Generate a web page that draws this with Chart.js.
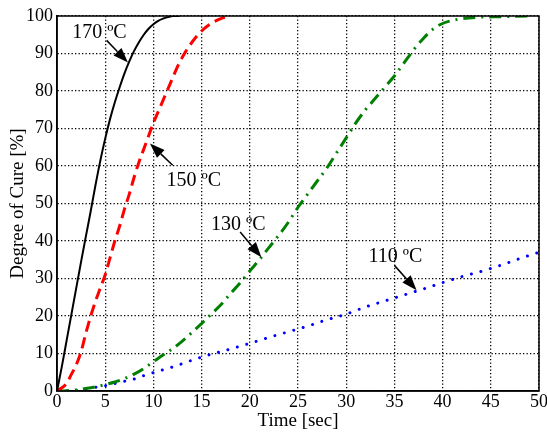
<!DOCTYPE html>
<html>
<head>
<meta charset="utf-8">
<script src="https://cdn.jsdelivr.net/npm/chart.js@4"></script>
<style>
    html, body { margin: 0; padding: 0; background: #fff; }
    #wrap { width: 547px; height: 432px; }
</style>
</head>
<body>
<div id="wrap"><canvas id="curado"></canvas></div>
<script>
// Datos (tiempo en seg, grado de curado en %)
const t170 = [0, 0.5, 1, 1.5, 2, 2.5, 3, 3.5, 4, 4.5, 5, 5.5, 6, 6.5, 7, 7.5, 8, 8.5, 9, 9.5, 10, 10.5, 11, 11.5, 12, 12.7];
const cure170 = [0, 6.5, 13.5, 20.5, 27.5, 34.5, 41.3, 48, 55, 61.5, 67.3, 72.5, 77, 81, 84.7, 87.9, 90.7, 93, 95, 96.6, 97.8, 98.7, 99.3, 99.7, 100, 100];

const t150 = [0, 1, 1.5, 2, 2.5, 3, 3.5, 4, 4.5, 5, 5.5, 6, 6.5, 7, 7.5, 8, 8.5, 9, 9.5, 10, 10.5, 11, 11.5, 12, 12.5, 13, 14, 15, 16, 17, 18];
const cure150 = [0, 2, 4.5, 7, 10.5, 15.5, 20, 24, 27.5, 31, 35.5, 40, 44, 48.5, 52.5, 57, 61, 64.5, 68, 71.5, 74.5, 77.5, 80.5, 83.5, 86.5, 89, 93, 96, 98, 99.3, 100];

const t130 = [0, 1, 2, 3, 4, 5, 6, 7, 8, 9, 10, 11, 12, 13, 14, 15, 16, 17, 18, 19, 20, 21, 22, 23, 24, 25, 26, 27, 28, 29, 30, 31, 32, 33, 34, 35, 36, 37, 38, 39, 40, 41, 42, 44, 46, 49];
const cure130 = [0, 0.1, 0.3, 0.7, 1.1, 1.7, 2.4, 3.3, 4.5, 6, 7.8, 9.6, 11.3, 13.3, 15.6, 18, 20.5, 23, 26, 28.8, 32, 35, 38.3, 41.5, 45, 49, 52.5, 56, 59.5, 63.5, 67.5, 71.5, 75, 78, 81, 84, 87.5, 91, 94, 96.5, 98, 98.8, 99.3, 99.7, 99.8, 100];

const t110 = [0, 1, 2, 3, 4, 5, 6, 7, 8, 9, 10, 12, 14, 16, 18, 20, 22, 24, 26, 28, 30, 32, 34, 36, 38, 40, 42, 44, 46, 48, 50];
const cure110 = [0, 0, 0.1, 0.6, 1, 1.4, 2, 2.6, 3.2, 4.1, 4.9, 6.4, 8.2, 9.8, 11.2, 12.7, 14.3, 15.8, 17.3, 19, 20.5, 22.4, 24, 25.6, 27.2, 28.9, 30.5, 31.9, 33.5, 35.3, 37];

const xTicks = [0, 5, 10, 15, 20, 25, 30, 35, 40, 45, 50];
const yTicks = [0, 10, 20, 30, 40, 50, 60, 70, 80, 90, 100];

// Etiquetas con flecha: [tiempo, %]
const etiquetas = ['170 ºC', '150 ºC', '130 ºC', '110 ºC'];
const posTexto = [[4.4, 95.6], [14.2, 56.2], [18.8, 44.4], [35.1, 35.9]];
const colaFlecha = [[5.15, 93.5], [12.0, 60.2], [19.0, 42.4], [35.0, 33.5]];
const puntaFlecha = [[7.36, 87.6], [9.64, 66.0], [21.2, 35.7], [37.3, 26.9]];

const serie = (ts, vs) => ts.map((t, i) => ({ x: t, y: vs[i] }));

const FUENTE = '"Liberation Serif", "Times New Roman", serif';

const marcoYFlechas = {
    id: 'marcoYFlechas',
    afterDatasetsDraw(chart) {
        const { ctx, chartArea: a, scales: { x, y } } = chart;
        ctx.save();
        // caja completa
        ctx.strokeStyle = '#000';
        ctx.lineWidth = 1.5;
        ctx.setLineDash([]);
        ctx.strokeRect(a.left, a.top, a.right - a.left, a.bottom - a.top);

        ctx.fillStyle = '#000';
        ctx.font = '20px ' + FUENTE;
        ctx.textAlign = 'center';
        ctx.textBaseline = 'middle';
        etiquetas.forEach((txt, i) => {
            ctx.fillText(txt, x.getPixelForValue(posTexto[i][0]), y.getPixelForValue(posTexto[i][1]));

            const x0 = x.getPixelForValue(colaFlecha[i][0]), y0 = y.getPixelForValue(colaFlecha[i][1]);
            const x1 = x.getPixelForValue(puntaFlecha[i][0]), y1 = y.getPixelForValue(puntaFlecha[i][1]);
            const ang = Math.atan2(y1 - y0, x1 - x0);
            const largo = 15, ancho = 5.5;
            const bx = x1 - largo * Math.cos(ang), by = y1 - largo * Math.sin(ang);
            ctx.lineWidth = 1.5;
            ctx.beginPath();
            ctx.moveTo(x0, y0);
            ctx.lineTo(bx, by);
            ctx.stroke();
            ctx.beginPath();
            ctx.moveTo(x1, y1);
            ctx.lineTo(bx + ancho * Math.sin(ang), by - ancho * Math.cos(ang));
            ctx.lineTo(bx - ancho * Math.sin(ang), by + ancho * Math.cos(ang));
            ctx.closePath();
            ctx.fill();
        });
        ctx.restore();
    }
};

const rejilla = {
    color: '#000',
    lineWidth: 1.3,
    drawTicks: false
};
const borde = { display: true, color: '#000', width: 1.5, dash: [1.3, 2.2] };

new Chart(document.getElementById('curado'), {
    type: 'line',
    data: {
        datasets: [
            {
                label: '170 ºC',
                data: serie(t170, cure170),
                borderColor: '#000',
                borderWidth: 2,
                pointRadius: 0,
                cubicInterpolationMode: 'monotone'
            },
            {
                label: '150 ºC',
                data: serie(t150, cure150),
                borderColor: '#ff0000',
                borderWidth: 3,
                borderDash: [11, 6],
                pointRadius: 0,
                cubicInterpolationMode: 'monotone'
            },
            {
                label: '130 ºC',
                data: serie(t130, cure130),
                borderColor: '#008000',
                borderWidth: 3,
                borderDash: [12, 6, 2, 6],
                pointRadius: 0,
                cubicInterpolationMode: 'monotone'
            },
            {
                label: '110 ºC',
                data: serie(t110, cure110),
                borderColor: '#0000ff',
                borderWidth: 3,
                borderDash: [0.01, 9.8],
                borderCapStyle: 'round',
                pointRadius: 0,
                cubicInterpolationMode: 'monotone'
            }
        ]
    },
    options: {
        responsive: true,
        maintainAspectRatio: false,
        animation: false,
        layout: { padding: { left: 0, right: 8, top: 16, bottom: 0 } },
        plugins: {
            legend: { display: false },
            tooltip: { enabled: false }
        },
        scales: {
            x: {
                type: 'linear',
                min: 0,
                max: 50,
                afterBuildTicks: s => { s.ticks = xTicks.map(v => ({ value: v })); },
                afterFit: s => { s.height = 41; s.paddingLeft = 0; s.paddingRight = 0; },
                grid: rejilla,
                border: borde,
                ticks: { color: '#000', padding: 0, font: { family: FUENTE, size: 18 } },
                title: {
                    display: true,
                    text: 'Time [sec]',
                    color: '#000',
                    padding: { top: 0, bottom: 0 },
                    font: { family: FUENTE, size: 19 }
                }
            },
            y: {
                min: 0,
                max: 100,
                afterBuildTicks: s => { s.ticks = yTicks.map(v => ({ value: v })); },
                afterFit: s => { s.width = 57; s.paddingTop = 0; s.paddingBottom = 0; },
                grid: rejilla,
                border: borde,
                ticks: { color: '#000', padding: 4, font: { family: FUENTE, size: 18 } },
                title: {
                    display: true,
                    text: 'Degree of Cure [%]',
                    color: '#000',
                    padding: { top: 7, bottom: 0 },
                    font: { family: FUENTE, size: 19 }
                }
            }
        }
    },
    plugins: [marcoYFlechas]
});
</script>
</body>
</html>
